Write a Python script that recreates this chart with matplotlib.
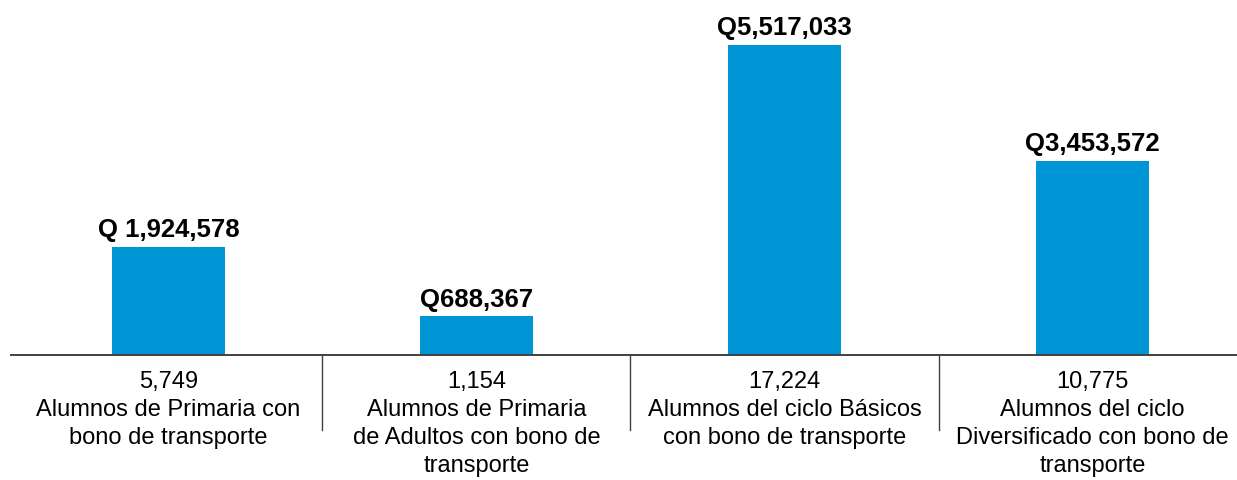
import matplotlib.pyplot as plt
from matplotlib.transforms import blended_transform_factory

# datos
categorias = [
    "Alumnos de Primaria con\nbono de transporte",
    "Alumnos de Primaria\nde Adultos con bono de\ntransporte",
    "Alumnos del ciclo Básicos\ncon bono de transporte",
    "Alumnos del ciclo\nDiversificado con bono de\ntransporte",
]
alumnos = ["5,749", "1,154", "17,224", "10,775"]
montos = [1924578, 688367, 5517033, 3453572]
etiquetas_monto = ["Q 1,924,578", "Q688,367", "Q5,517,033", "Q3,453,572"]

AZUL = "#0096d6"
W, H = 1237, 480

plt.rcParams["font.family"] = ["Liberation Sans", "DejaVu Sans"]

fig = plt.figure(figsize=(W / 100, H / 100), dpi=100)
ax = fig.add_axes([11 / W, 125 / H, (W - 11) / W, 355 / H])

x = list(range(len(montos)))
ax.bar(x, montos, width=0.367, color=AZUL, zorder=2)

ax.set_xlim(-0.511, 3.469)
ax.set_ylim(0, 6.32e6)

for s in ["top", "left", "right"]:
    ax.spines[s].set_visible(False)
ax.spines["bottom"].set_color("#404040")
ax.spines["bottom"].set_linewidth(1.4)
ax.set_xticks([])
ax.set_yticks([])

# montos sobre cada barra
for i, (v, t) in enumerate(zip(montos, etiquetas_monto)):
    ax.annotate(t, (i, v), xytext=(0, 7), textcoords="offset points",
                ha="center", va="baseline", fontsize=18.5, fontweight="bold")

# etiquetas de categoría debajo del eje
trans = blended_transform_factory(ax.transData, ax.transAxes)
for i, (n, c) in enumerate(zip(alumnos, categorias)):
    ax.annotate(n + "\n" + c, (i, 0), xycoords=trans, xytext=(0, -11.5),
                textcoords="offset points", ha="center", va="top",
                fontsize=17, linespacing=1.35, annotation_clip=False)

# separadores verticales entre categorías
for sx in [0.5, 1.5, 2.5]:
    ax.plot([sx, sx], [0, -75 / 355], transform=trans, color="#404040",
            lw=1.0, clip_on=False)

fig.savefig("out.png", dpi=100)
